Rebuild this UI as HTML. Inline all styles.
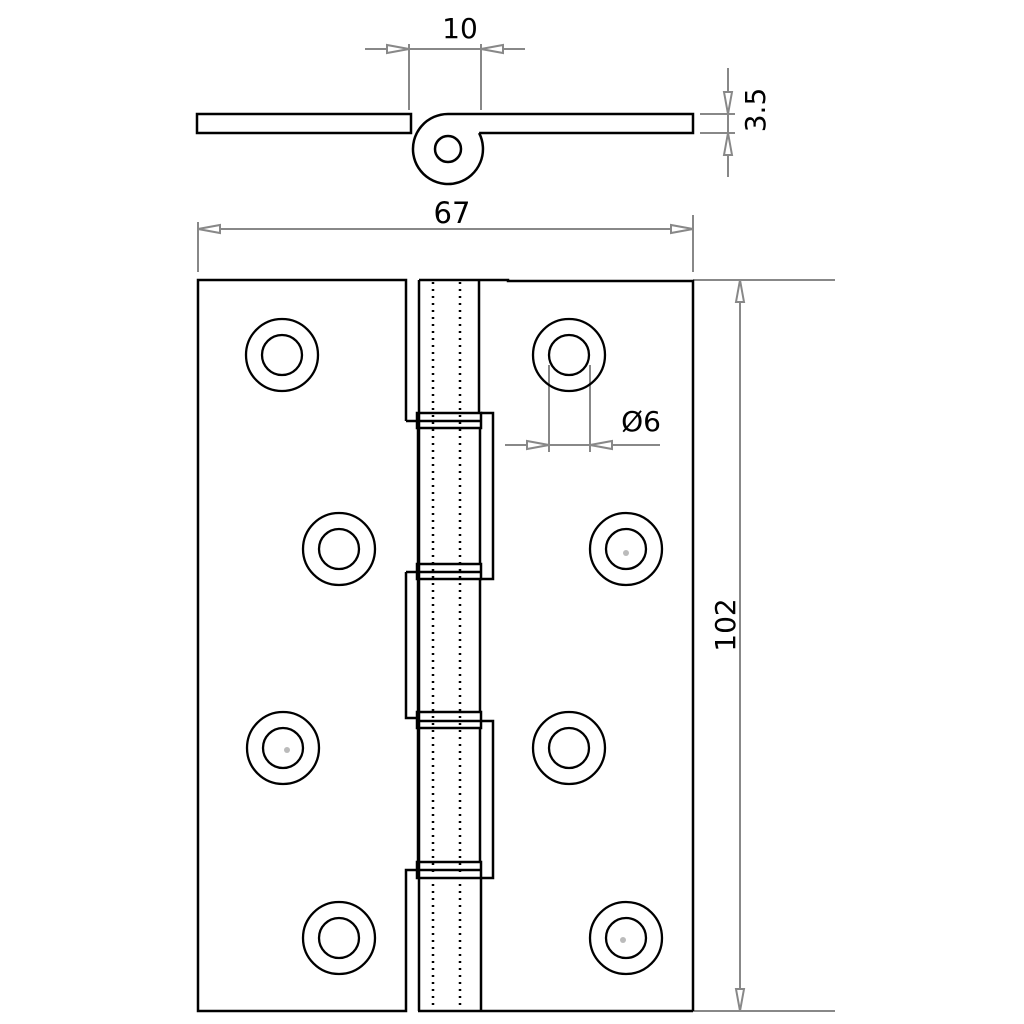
<!DOCTYPE html>
<html><head><style>
html,body{margin:0;padding:0;background:#fff}
svg{display:block}
text{font-family:"DejaVu Sans","Liberation Sans",sans-serif;fill:#000}
</style></head><body>
<svg width="1024" height="1024" viewBox="0 0 1024 1024" xmlns="http://www.w3.org/2000/svg">
<g stroke="#888" stroke-width="2" fill="#fff">
<line x1="409" y1="44" x2="409" y2="110"/><line x1="481" y1="44" x2="481" y2="110"/>
<line x1="365" y1="49" x2="525" y2="49"/>
<polygon points="409,49 387,45 387,53"/><polygon points="481,49 503,45 503,53"/>
<line x1="728" y1="68" x2="728" y2="177"/>
<line x1="700" y1="114" x2="735" y2="114"/><line x1="700" y1="133" x2="735" y2="133"/>
<polygon points="728,114 724,92 732,92"/><polygon points="728,133 724,155 732,155"/>
<line x1="198" y1="222" x2="198" y2="272"/><line x1="693" y1="215" x2="693" y2="272"/>
<line x1="198" y1="229" x2="693" y2="229"/>
<polygon points="198,229 220,225 220,233"/><polygon points="693,229 671,225 671,233"/>
<line x1="693" y1="280" x2="835" y2="280"/><line x1="693" y1="1011" x2="835" y2="1011"/>
<line x1="740" y1="280" x2="740" y2="1011"/>
<polygon points="740,280 736,302 744,302"/><polygon points="740,1011 736,989 744,989"/>
<line x1="549" y1="365" x2="549" y2="452"/><line x1="590" y1="365" x2="590" y2="452"/>
<line x1="505" y1="445" x2="660" y2="445"/>
<polygon points="549,445 527,441 527,449"/><polygon points="590,445 612,441 612,449"/>
</g>
<text x="460" y="38" font-size="28" text-anchor="middle">10</text>
<text x="452" y="223" font-size="29" text-anchor="middle">67</text>
<text x="641" y="431" font-size="28" text-anchor="middle">Ø6</text>
<text transform="translate(765,110) rotate(-90)" font-size="28" text-anchor="middle">3.5</text>
<text transform="translate(735,625) rotate(-90)" font-size="28" text-anchor="middle">102</text>

<g stroke="#000" stroke-width="2.5" fill="none">
<rect x="197" y="114" width="214" height="19"/>
<path d="M479.1,133 A35,35 0 1 1 448,114 L693,114 L693,133 L479.1,133"/>
<circle cx="448" cy="149" r="13"/>
</g>
<g stroke="#000" stroke-width="2.5" fill="none">
<path d="M406,421 L406,280 L198,280 L198,1011 L406,1011 L406,870 L418,870"/>
<path d="M406,572 L406,718 L418,718"/>
<path d="M406,572 L418,572"/>
<path d="M406,421 L418,421"/>
<line x1="419" y1="280" x2="419" y2="1011"/>
<line x1="479" y1="280" x2="479" y2="413"/>
<line x1="481" y1="878" x2="481" y2="1011"/>
<line x1="418" y1="1011" x2="693" y2="1011"/>
<path d="M419,280 L508,280 L508,281 L693,281 L693,1011"/>
<rect x="417" y="413" width="64" height="15"/><line x1="417" y1="421" x2="481" y2="421"/>
<rect x="417" y="564" width="64" height="15"/><line x1="417" y1="572" x2="481" y2="572"/>
<rect x="417" y="712" width="64" height="16"/><line x1="417" y1="721" x2="481" y2="721"/>
<rect x="417" y="862" width="64" height="16"/><line x1="417" y1="870" x2="481" y2="870"/>
<line x1="418" y1="428" x2="418" y2="564"/><line x1="480" y1="428" x2="480" y2="564"/>
<line x1="418" y1="579" x2="418" y2="712"/><line x1="480" y1="579" x2="480" y2="712"/>
<line x1="418" y1="728" x2="418" y2="862"/><line x1="480" y1="728" x2="480" y2="862"/>
<path d="M481,413 L493,413 L493,579 L481,579"/>
<path d="M481,721 L493,721 L493,878 L481,878"/>
</g>
<g stroke="#000" stroke-width="2.5" stroke-dasharray="2,5">
<line x1="433" y1="282" x2="433" y2="1010"/>
<line x1="460" y1="282" x2="460" y2="1010"/>
</g>
<g stroke="#000" stroke-width="2.3" fill="none">
<circle cx="282" cy="355" r="36"/><circle cx="282" cy="355" r="20"/>
<circle cx="339" cy="549" r="36"/><circle cx="339" cy="549" r="20"/>
<circle cx="283" cy="748" r="36"/><circle cx="283" cy="748" r="20"/>
<circle cx="339" cy="938" r="36"/><circle cx="339" cy="938" r="20"/>
<circle cx="569" cy="355" r="36"/><circle cx="569" cy="355" r="20"/>
<circle cx="626" cy="549" r="36"/><circle cx="626" cy="549" r="20"/>
<circle cx="569" cy="748" r="36"/><circle cx="569" cy="748" r="20"/>
<circle cx="626" cy="938" r="36"/><circle cx="626" cy="938" r="20"/>
</g>
<g fill="#bbb">
<circle cx="287" cy="750" r="3"/><circle cx="626" cy="553" r="3"/><circle cx="623" cy="940" r="3"/>
</g>
</svg>
</body></html>
